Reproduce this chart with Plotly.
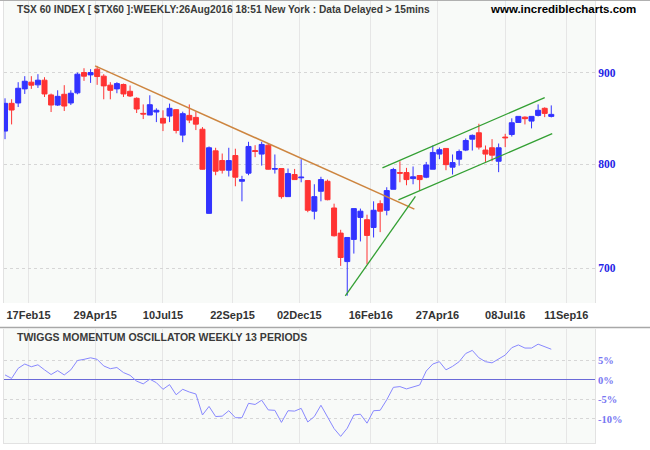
import pandas as pd
import plotly.graph_objects as go

# ---------------- data ----------------
week_ending = pd.date_range("2015-01-23", periods=84, freq="7D")

open_ = [834.8, 865.1, 865.5, 881.3, 888.9, 885.9, 891.2, 874.5, 863.2, 875.2,
         865.5, 876.8, 900.0, 897.3, 903.9, 895.8, 885.5, 881.3, 886.3, 878.6,
         870.7, 854.0, 852.2, 855.5, 848.6, 851.1, 858.1, 830.5, 851.8, 849.6,
         836.8, 751.1, 813.9, 803.8, 793.9, 809.0, 782.7, 790.9, 814.2, 810.5,
         819.8, 794.9, 795.6, 767.4, 789.5, 786.2, 783.4, 753.2, 772.7, 782.7,
         756.3, 732.3, 706.0, 726.4, 747.2, 745.0, 737.6, 760.5, 754.1, 774.7,
         791.5, 791.5, 785.4, 788.5, 786.8, 794.9, 810.5, 816.4, 797.0, 805.2,
         814.7, 826.2, 833.0, 814.7, 817.1, 803.1, 828.4, 831.2, 844.1, 849.9,
         845.6, 851.8, 859.6, 850.7]
high = [870.7, 869.6, 888.9, 895.8, 895.8, 898.1, 894.6, 876.0, 879.7, 885.5,
        879.7, 900.0, 905.0, 903.9, 907.7, 898.1, 888.9, 888.9, 887.3, 885.1,
        871.8, 863.9, 874.1, 859.6, 857.4, 864.8, 858.5, 855.9, 863.9, 855.9,
        839.1, 818.5, 817.1, 811.1, 817.1, 816.1, 788.2, 823.4, 819.8, 823.4,
        821.6, 810.1, 795.6, 795.6, 795.2, 805.2, 783.7, 779.7, 787.2, 784.4,
        760.5, 735.4, 728.2, 755.7, 755.7, 749.8, 762.8, 763.8, 776.7, 796.3,
        803.1, 796.3, 797.7, 788.5, 802.4, 819.5, 817.4, 816.4, 810.1, 815.3,
        826.9, 831.2, 842.7, 819.5, 826.2, 821.6, 831.9, 848.6, 850.7, 850.7,
        850.7, 863.9, 860.7, 862.8]
low = [826.2, 842.0, 861.0, 875.6, 881.3, 882.4, 872.2, 855.5, 862.1, 856.6,
       863.2, 875.2, 890.4, 888.1, 885.9, 869.6, 869.6, 876.4, 872.2, 872.2,
       854.4, 847.8, 852.2, 844.5, 834.8, 844.5, 832.3, 823.0, 843.4, 835.9,
       794.6, 750.8, 788.8, 790.5, 787.5, 777.7, 762.8, 788.8, 807.3, 798.6,
       794.6, 790.5, 765.4, 767.4, 784.4, 781.7, 752.2, 745.3, 762.8, 763.8,
       729.1, 702.1, 675.8, 713.3, 724.5, 703.6, 728.2, 733.2, 749.2, 774.7,
       781.7, 778.7, 779.7, 773.4, 785.8, 794.9, 805.2, 793.9, 789.5, 798.6,
       813.6, 814.2, 815.3, 802.4, 803.1, 791.9, 817.8, 829.0, 844.1, 842.0,
       837.7, 850.7, 849.9, 849.6]
close = [865.1, 857.7, 882.0, 890.0, 885.5, 891.2, 875.6, 863.2, 872.9, 862.1,
         876.4, 898.1, 895.8, 900.0, 895.4, 884.7, 879.7, 887.3, 875.6, 873.3,
         858.8, 853.3, 863.6, 857.4, 843.4, 859.6, 835.5, 853.7, 846.7, 842.3,
         794.9, 817.1, 792.9, 793.9, 803.8, 786.8, 784.4, 818.5, 813.2, 820.6,
         794.9, 795.6, 767.4, 790.5, 784.4, 786.8, 754.1, 767.4, 784.4, 764.4,
         729.8, 709.7, 728.2, 755.7, 753.2, 730.1, 754.1, 753.2, 773.4, 794.6,
         790.9, 784.4, 787.2, 784.4, 799.3, 812.2, 815.1, 799.6, 801.7, 813.2,
         824.8, 830.2, 817.8, 810.5, 809.4, 817.1, 827.7, 843.8, 850.7, 848.2,
         850.7, 857.4, 854.0, 852.9]

momentum = [1.3, 0.4, 3.0, 4.1, 3.4, 3.9, 2.6, 1.4, 2.4, 1.3,
            2.6, 5.0, 5.3, 5.7, 5.3, 3.6, 2.9, 3.2, 1.9, 1.2,
            -0.3, -1.0, 0.2, -0.7, -2.4, -1.2, -3.8, -2.4, -3.1, -3.6,
            -9.0, -6.8, -9.4, -9.3, -7.9, -9.7, -9.7, -6.0, -6.3, -5.2,
            -7.7, -7.8, -10.9, -7.9, -8.0, -7.3, -10.8, -9.4, -6.5, -9.4,
            -12.5, -14.5, -12.4, -9.0, -8.8, -11.1, -7.9, -7.8, -5.1, -1.9,
            -1.7, -2.3, -1.7, -1.3, 2.3, 4.1, 4.7, 2.6, 3.5, 4.7,
            6.8, 7.6, 5.7, 4.7, 4.4, 5.3, 6.4, 8.3, 9.0, 8.2,
            8.2, 9.2, 8.5, 7.9]

tick_labels = ["17Feb15", "29Apr15", "10Jul15", "22Sep15", "02Dec15",
               "16Feb16", "27Apr16", "08Jul16", "11Sep16"]
price_ticks = [700, 800, 900]
osc_ticks = [5, 0, -5, -10]
osc_labels = ["5%", "0%", "-5%", "-10%"]

# trend lines (date, price)
resist_dates = ["2015-04-28 19:00", "2016-04-02 10:00"]
resist_prices = [907.7, 755.2]
support_dates = ["2016-01-19 22:00", "2016-04-03 12:00"]
support_prices = [675.6, 767.6]
upper_dates = ["2016-02-28 10:00", "2016-08-19 00:00"]
upper_prices = [796.3, 871.5]
lower_dates = ["2016-03-16 10:00", "2016-08-27 00:00"]
lower_prices = [764.3, 832.0]

title_text = "TSX 60 INDEX [ $TX60 ]:WEEKLY:26Aug2016 18:51 New York : Data Delayed &gt; 15mins"
site_text = "www.incrediblecharts.com"
osc_title = "TWIGGS MOMENTUM OSCILLATOR WEEKLY 13 PERIODS"

# ---------------- figure ----------------
BLUE = "#3333ff"
RED = "#ff3333"
GRID = "#e6e6e6"
PLOTBG = "#f8faf8"

fig = go.Figure()

fig.add_trace(go.Candlestick(
    x=week_ending, open=open_, high=high, low=low, close=close,
    increasing=dict(line=dict(color=BLUE, width=1), fillcolor=BLUE),
    decreasing=dict(line=dict(color=RED, width=1), fillcolor=RED),
    whiskerwidth=0, xaxis="x", yaxis="y", showlegend=False,
))

line_color_or = "#cd853f"
line_color_gr = "#33a033"
fig.add_trace(go.Scatter(x=pd.to_datetime(resist_dates), y=resist_prices, mode="lines",
                         line=dict(color=line_color_or, width=1.5), xaxis="x", yaxis="y",
                         showlegend=False))
for d, p in [(support_dates, support_prices), (upper_dates, upper_prices),
             (lower_dates, lower_prices)]:
    fig.add_trace(go.Scatter(x=pd.to_datetime(d), y=p, mode="lines",
                             line=dict(color=line_color_gr, width=1.3), xaxis="x", yaxis="y",
                             showlegend=False))

fig.add_trace(go.Scatter(x=week_ending, y=momentum, mode="lines",
                         line=dict(color="#8888ff", width=1), xaxis="x2", yaxis="y2",
                         showlegend=False))

x_range = [pd.Timestamp("2015-01-21 22:00"), pd.Timestamp("2016-10-11 12:00")]
tickvals = pd.to_datetime(tick_labels, format="%d%b%y")

FIG_H = 450
M_T, M_B = 0, 7
PH = FIG_H - M_T - M_B


def frac(ypx):
    return (FIG_H - M_B - ypx) / PH


fig.update_layout(
    width=650, height=450,
    margin=dict(l=4, r=55, t=M_T, b=M_B),
    paper_bgcolor="white", plot_bgcolor=PLOTBG,
    boxgap=0.24, boxgroupgap=0,
    showlegend=False,
    xaxis=dict(type="date", range=x_range, domain=[0, 1], anchor="y",
               tickvals=tickvals, ticktext=tick_labels, ticks="",
               ticklabelstandoff=4,
               showgrid=True, gridcolor=GRID, gridwidth=1,
               rangeslider=dict(visible=False), showline=False, zeroline=False,
               tickfont=dict(family="Arial", size=11, color="#333333", weight="bold")),
    xaxis2=dict(type="date", range=x_range, domain=[0, 1], anchor="y2", matches="x",
                tickvals=tickvals, showticklabels=False, ticks="",
                showgrid=True, gridcolor=GRID, showline=True, linecolor="#e2e2e2"),
    yaxis=dict(type="log", range=[2.8257, 2.9947], domain=[frac(303), 1.0], side="right",
               tickvals=price_ticks, ticks="", showgrid=True, gridcolor="#d6d6d6",
               griddash="dot", zeroline=False, showline=True, mirror=True,
               linecolor="#e2e2e2",
               tickfont=dict(family="Liberation Serif, Times New Roman", size=11.5,
                             color="#2323e6", weight="bold")),
    yaxis2=dict(range=[-16.2, 13.1], domain=[0, frac(329)], side="right", anchor="x2",
                tickvals=osc_ticks, ticktext=osc_labels, ticks="",
                showgrid=True, gridcolor="#d6d6d6", griddash="dot",
                zeroline=True, zerolinecolor="#6a6ad8", zerolinewidth=1,
                showline=True, mirror=True, linecolor="#e2e2e2",
                tickfont=dict(family="Liberation Serif, Times New Roman", size=10.5,
                              color="#7676f2", weight="bold")),
)

ann_font = dict(family="Arial", size=10.2, color="#3a3a3a", weight="bold")
fig.add_annotation(text=title_text, xref="paper", yref="paper",
                   x=(15 - 4) / 591, y=frac(9), xanchor="left", yanchor="middle",
                   showarrow=False, font=ann_font)
fig.add_annotation(text=site_text, xref="paper", yref="paper",
                   x=(638 - 4) / 591, y=frac(9), xanchor="right", yanchor="middle",
                   showarrow=False,
                   font=dict(family="Arial", size=11.5, color="#000000", weight="bold"))
fig.add_annotation(text=osc_title, xref="paper", yref="paper",
                   x=(15 - 4) / 591, y=frac(337), xanchor="left", yanchor="middle",
                   showarrow=False,
                   font=dict(family="Arial", size=10.5, color="#3a3a3a", weight="bold"))

# separator line between panels and top border
fig.add_shape(type="line", xref="paper", yref="paper", x0=-0.01, x1=1.1,
              y0=frac(327.5), y1=frac(327.5), line=dict(color="#a8a8a8", width=1.5))
fig.add_shape(type="line", xref="paper", yref="paper", x0=-0.01, x1=1.1,
              y0=frac(0.5), y1=frac(0.5), line=dict(color="#b0b0b0", width=1))

fig.write_html("out.html", config={"displayModeBar": False},
               post_script="document.body.style.margin='0px';")
